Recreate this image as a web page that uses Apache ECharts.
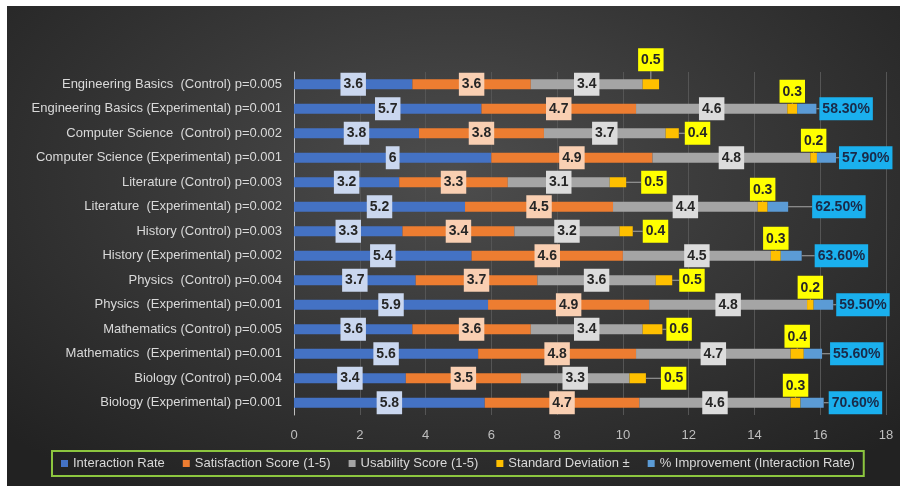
<!DOCTYPE html>
<html>
<head>
<meta charset="utf-8">
<script src="https://cdn.jsdelivr.net/npm/echarts@6/dist/echarts.min.js"></script>
<style>
  html, body { margin: 0; padding: 0; background: #ffffff; width: 902px; height: 486px; overflow: hidden; }
  #bg { position: absolute; left: 7px; top: 6px; width: 893px; height: 480px;
        background: radial-gradient(ellipse 70% 78% at 50% 35%, #4d4d4d 0%, #373737 50%, #222222 100%); }
  #chart { position: absolute; left: 0; top: 0; width: 902px; height: 486px; }
</style>
</head>
<body>
<div id="bg"></div>
<div id="chart"></div>
<script>
// Course groups, listed top to bottom
const categories = [
  'Engineering Basics  (Control) p=0.005',
  'Engineering Basics (Experimental) p=0.001',
  'Computer Science  (Control) p=0.002',
  'Computer Science (Experimental) p=0.001',
  'Literature (Control) p=0.003',
  'Literature  (Experimental) p=0.002',
  'History (Control) p=0.003',
  'History (Experimental) p=0.002',
  'Physics  (Control) p=0.004',
  'Physics  (Experimental) p=0.001',
  'Mathematics (Control) p=0.005',
  'Mathematics  (Experimental) p=0.001',
  'Biology (Control) p=0.004',
  'Biology (Experimental) p=0.001'
];
const interactionRate   = [3.6, 5.7, 3.8, 6.0, 3.2, 5.2, 3.3, 5.4, 3.7, 5.9, 3.6, 5.6, 3.4, 5.8];
const satisfactionScore = [3.6, 4.7, 3.8, 4.9, 3.3, 4.5, 3.4, 4.6, 3.7, 4.9, 3.6, 4.8, 3.5, 4.7];
const usabilityScore    = [3.4, 4.6, 3.7, 4.8, 3.1, 4.4, 3.2, 4.5, 3.6, 4.8, 3.4, 4.7, 3.3, 4.6];
const standardDeviation = [0.5, 0.3, 0.4, 0.2, 0.5, 0.3, 0.4, 0.3, 0.5, 0.2, 0.6, 0.4, 0.5, 0.3];
// % improvement of interaction rate (experimental groups only)
const improvementPct    = [null, 58.3, null, 57.9, null, 62.5, null, 63.6, null, 59.5, null, 55.6, null, 70.6];
const xTicks = [0, 2, 4, 6, 8, 10, 12, 14, 16, 18];

// label placement tweaks (pixels)
const sdLabelOnTop   = [true, true, false, true, false, true, false, true, false, true, false, true, false, true];
const sdLabelShift   = [0, 0, 2, 0, 11, 0, 6, 0, 3, 0, 0, 0, 11, 0];
const impLabelShift  = [0, 0, 0, 0, 0, 21, 0, 10, 0, 0, 0, 5, 0, 2];

const FONT = 'Liberation Sans';

function boxLabel(bg, color) {
  return {
    show: true,
    position: 'inside',
    backgroundColor: bg,
    color: color || '#262626',
    fontFamily: FONT,
    fontWeight: 'bold',
    fontSize: 14,
    padding: [5, 3, 4, 3]
  };
}

const chart = echarts.init(document.getElementById('chart'), null, { renderer: 'canvas' });

const option = {
  backgroundColor: 'transparent',
  animation: false,
  grid: { left: 294, right: 16, top: 72, bottom: 71, containLabel: false },
  legend: {
    top: 451,
    left: 52,
    icon: 'rect',
    itemWidth: 7,
    itemHeight: 7,
    itemGap: 18,
    padding: [6, 9, 6, 9],
    borderColor: '#8cc63f',
    borderWidth: 2,
    textStyle: { color: '#d9d9d9', fontSize: 13, fontFamily: FONT },
    data: ['Interaction Rate', 'Satisfaction Score (1-5)', 'Usability Score (1-5)', 'Standard Deviation ±', '% Improvement (Interaction Rate)']
  },
  xAxis: {
    type: 'value',
    min: xTicks[0],
    max: xTicks[xTicks.length - 1],
    interval: 2,
    axisLine: { show: false },
    axisTick: { show: false },
    axisLabel: { color: '#bfbfbf', fontSize: 13, fontFamily: FONT, margin: 14 },
    splitLine: { show: true, lineStyle: { color: '#555555', width: 1 } }
  },
  yAxis: {
    type: 'category',
    inverse: true,
    data: categories,
    axisLine: { show: true, lineStyle: { color: '#bfbfbf', width: 1 } },
    axisTick: { show: false },
    axisLabel: { color: '#d9d9d9', fontSize: 13, fontFamily: FONT, margin: 12 }
  },
  series: [
    {
      name: 'Interaction Rate', type: 'bar', stack: 'total', barWidth: 10,
      itemStyle: { color: '#4472c4' },
      label: boxLabel('#cad7ef'),
      data: interactionRate
    },
    {
      name: 'Satisfaction Score (1-5)', type: 'bar', stack: 'total', barWidth: 10,
      itemStyle: { color: '#ed7d31' },
      label: boxLabel('#f9cfb2'),
      data: satisfactionScore
    },
    {
      name: 'Usability Score (1-5)', type: 'bar', stack: 'total', barWidth: 10,
      itemStyle: { color: '#a5a5a5' },
      label: boxLabel('#dcdcdc'),
      data: usabilityScore
    },
    {
      name: 'Standard Deviation ±', type: 'bar', stack: 'total', barWidth: 10,
      itemStyle: { color: '#ffc000' },
      label: Object.assign(boxLabel('#ffff00'), { position: 'right', distance: 4 }),
      labelLine: { show: true, lineStyle: { color: '#a6a6a6', width: 1 } },
      labelLayout: function (p) { return { dx: sdLabelShift[p.dataIndex] }; },
      data: standardDeviation.map(function (v, i) {
        return sdLabelOnTop[i]
          ? { value: v, label: { position: 'top', distance: i === 0 ? 8 : 1 } }
          : { value: v };
      })
    },
    {
      name: '% Improvement (Interaction Rate)', type: 'bar', stack: 'total', barWidth: 10,
      itemStyle: { color: '#5b9bd5' },
      label: Object.assign(boxLabel('#1ab0ee', '#1a2a48'), {
        position: 'right', distance: 3,
        formatter: function (p) { return improvementPct[p.dataIndex].toFixed(2) + '%'; }
      }),
      labelLine: { show: true, lineStyle: { color: '#a6a6a6', width: 1 } },
      labelLayout: function (p) { return { dx: impLabelShift[p.dataIndex] }; },
      data: improvementPct.map(function (v) { return v == null ? null : v / 100; })
    }
  ]
};

chart.setOption(option);
</script>
</body>
</html>
